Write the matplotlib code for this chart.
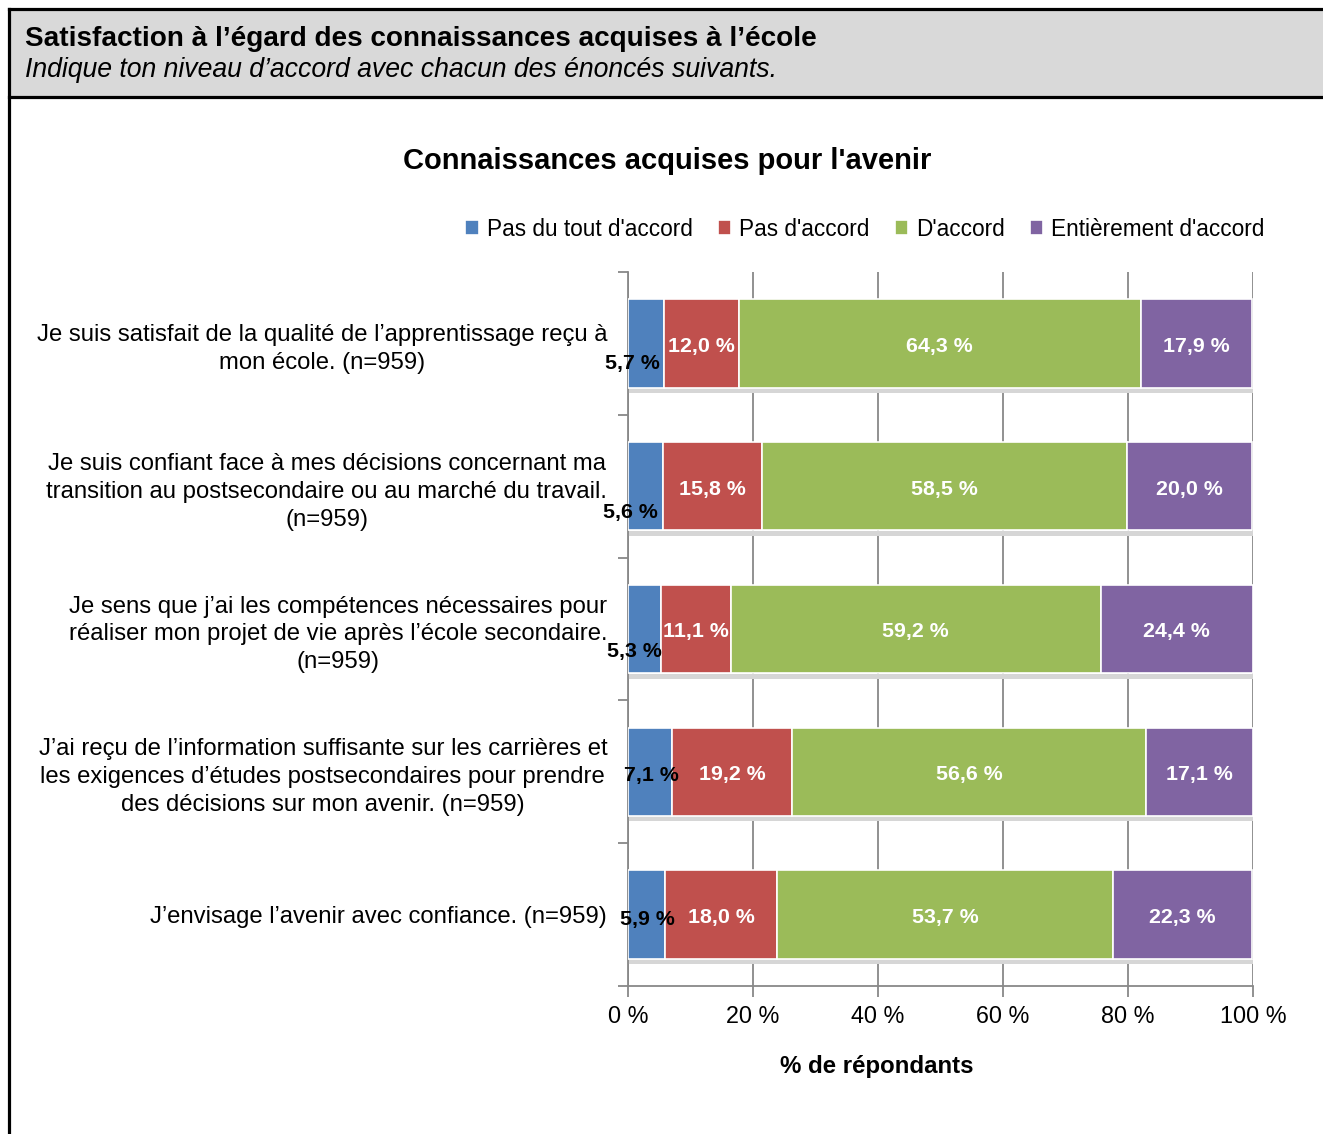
import matplotlib
matplotlib.use('Agg')
import matplotlib.pyplot as plt
from matplotlib.patches import Rectangle
from matplotlib.lines import Line2D
import numpy as np

plt.rcParams['font.family'] = ['Liberation Sans', 'DejaVu Sans']

# Survey statements and answer shares (%)
statements = [
    "Je suis satisfait de la qualité de l’apprentissage reçu à\nmon école. (n=959)",
    "Je suis confiant face à mes décisions concernant ma\ntransition au postsecondaire ou au marché du travail.\n(n=959)",
    "Je sens que j’ai les compétences nécessaires pour\nréaliser mon projet de vie après l’école secondaire.\n(n=959)",
    "J’ai reçu de l’information suffisante sur les carrières et\nles exigences d’études postsecondaires pour prendre\ndes décisions sur mon avenir. (n=959)",
    "J’envisage l’avenir avec confiance. (n=959)",
]
answers = ["Pas du tout d'accord", "Pas d'accord", "D'accord", "Entièrement d'accord"]
pas_du_tout = [5.7, 5.6, 5.3, 7.1, 5.9]
pas_accord = [12.0, 15.8, 11.1, 19.2, 18.0]
accord = [64.3, 58.5, 59.2, 56.6, 53.7]
entierement = [17.9, 20.0, 24.4, 17.1, 22.3]
xticks = [0, 20, 40, 60, 80, 100]

colors = ['#4F81BD', '#C0504D', '#9BBB59', '#8064A2']
label_colors = ['black', 'white', 'white', 'white']
# nudges (pixels) for the small first-segment labels
first_dx = [-13, -15, -10, 1, 1]
first_dy = [-20, -26, -23, -4, -5]

W, H = 1323, 1134
fig = plt.figure(figsize=(W / 100, H / 100), dpi=100)

# header band
fig.patches.append(Rectangle((9 / W, 1 - 97 / H), 1, 88 / H, transform=fig.transFigure,
                             facecolor='#d9d9d9', edgecolor='none', zorder=0))
for xs, ys in [((9, W), (9, 9)), ((9, W), (97, 97)), ((9, 9), (9, H))]:
    fig.lines.append(Line2D([x / W for x in xs], [1 - y / H for y in ys],
                            transform=fig.transFigure, color='black', lw=2.3))
fig.text(25 / W, 1 - 39 / H, "Satisfaction à l’égard des connaissances acquises à l’école",
         fontsize=20.1, fontweight='bold', va='center', ha='left')
fig.text(25 / W, 1 - 70 / H, "Indique ton niveau d’accord avec chacun des énoncés suivants.",
         fontsize=19.2, fontstyle='italic', va='center', ha='left')

fig.text(667 / W, 1 - 161 / H, "Connaissances acquises pour l'avenir",
         fontsize=21, fontweight='bold', ha='center', va='center')

ax = fig.add_axes([628 / W, 1 - 986 / H, 625 / W, 714 / H])
y = np.arange(len(statements))
series = [pas_du_tout, pas_accord, accord, entierement]
bar_h = 0.62

# soft shadow under each bar
ax.barh(y + bar_h / 2 + 0.02, 100, height=0.035, left=0, color='#d6d6d6', zorder=2)

left = np.zeros(len(statements))
for k, (vals, name) in enumerate(zip(series, answers)):
    vals = np.array(vals)
    ax.barh(y, vals, left=left, height=bar_h, color=colors[k], edgecolor='white',
            linewidth=1.2, label=name, zorder=3)
    for i, v in enumerate(vals):
        txt = f"{v:.1f} %".replace('.', ',')
        dx, dy = (first_dx[i], first_dy[i]) if k == 0 else (0, -3)
        ax.annotate(txt, (left[i] + v / 2, y[i]), xytext=(dx, dy), textcoords='offset pixels',
                    ha='center', va='center', fontsize=15.4, fontweight='bold',
                    color=label_colors[k], zorder=5)
    left += vals

ax.set_xlim(0, 100)
ax.set_ylim(len(statements) - 0.5, -0.5)
ax.set_xticks(xticks)
ax.set_xticklabels([f"{t} %" for t in xticks], fontsize=16.8)
ax.set_yticks(y)
ax.set_yticklabels(statements, fontsize=17.2, multialignment='center', linespacing=1.35)
ax.set_yticks(np.arange(-0.5, len(statements)), minor=True)
ax.tick_params(axis='y', which='major', length=0, pad=15)
ax.tick_params(axis='y', which='minor', length=7, color='#888888', width=1.3)
ax.tick_params(axis='x', length=8, color='#888888', width=1.3, pad=6)
ax.xaxis.grid(True, color='#888888', lw=1.3, zorder=1)
ax.set_axisbelow(True)
for s in ['top', 'right']:
    ax.spines[s].set_visible(False)
for s in ['left', 'bottom']:
    ax.spines[s].set_color('#888888')
    ax.spines[s].set_linewidth(1.3)

fig.text(877 / W, 1 - 1067 / H, "% de répondants", fontsize=17.3, fontweight='bold',
         ha='center', va='center')

fig.legend(loc='center', bbox_to_anchor=(865 / W, 1 - 229 / H), ncol=4, frameon=False,
           fontsize=16.3, handlelength=0.6, handleheight=0.6, handletextpad=0.35,
           columnspacing=1.1)

fig.savefig('out.png', dpi=100)
